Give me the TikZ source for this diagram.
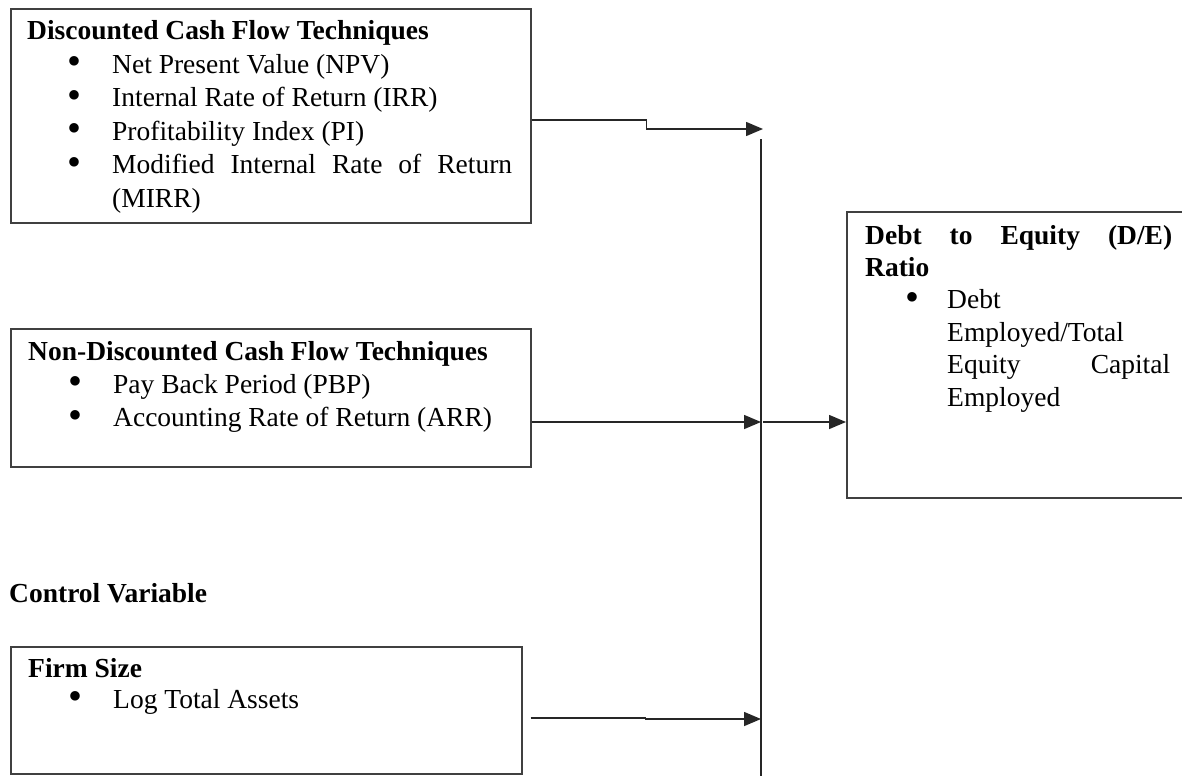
\documentclass[tikz,border=0pt]{standalone}
\usepackage{fontspec}
\setmainfont{Liberation Serif}
\usetikzlibrary{arrows.meta}

\tikzset{
  frame/.style={draw=black!75, line width=1.6pt, anchor=north west, inner sep=0pt},
  txt/.style={anchor=base west, inner sep=0pt, font=\fontsize{27.5}{33.4}\selectfont},
  link/.style={draw=black!85, line width=1.5pt},
  arr/.style={link, -{Triangle[length=17pt,width=14pt]}},
}
\newcommand{\bigdot}{\raisebox{-1.5pt}{\scalebox{1.45}{\textbullet}}}
\newcommand{\bul}[1]{\makebox[85pt][l]{\hspace*{40pt}\bigdot}#1}

\begin{document}
\begin{tikzpicture}[x=1pt,y=-1pt]
	\useasboundingbox (0,0) rectangle (1182,776);
	% boxes
	\node[frame, minimum width=520pt, minimum height=214pt] (dcf) at (10,8) {};
	\node[frame, minimum width=520pt, minimum height=138pt] (ndcf) at (10,328) {};
	\node[frame, minimum width=511pt, minimum height=127pt] (size) at (10,646) {};
	\node[frame, minimum width=360pt, minimum height=286pt] (de) at (846,211) {};
	% texts
	\node[txt] (dcftext) at (27,40) {\parbox[t]{500pt}{%
		\textbf{Discounted Cash Flow Techniques}\\
		\bul{Net Present Value (NPV)}\\
		\bul{Internal Rate of Return (IRR)}\\
		\bul{Profitability Index (PI)}\\
		\bul{\makebox[400pt][s]{Modified Internal Rate of Return}}\\
		\hspace*{85pt}(MIRR)}};
	\node[txt] (ndcftext) at (28,360) {\parbox[t]{500pt}{%
		\textbf{Non-Discounted Cash Flow Techniques}\\
		\bul{Pay Back Period (PBP)}\\
		\bul{Accounting Rate of Return (ARR)}}};
	\node[txt] (ctrl) at (9,602) {\textbf{Control Variable}};
	\node[txt] (sizetext) at (28,677) {\parbox[t]{490pt}{\baselineskip=31pt
		\textbf{Firm Size}\\
		\bul{Log Total Assets}}};
	\node[txt] (detext) at (865,244) {\parbox[t]{320pt}{\baselineskip=32.4pt
		\makebox[307pt][s]{\textbf{Debt to Equity (D/E)}}\\
		\textbf{Ratio}\\
		\makebox[82pt][l]{\hspace*{40pt}\bigdot}Debt\\
		\hspace*{82pt}Employed/Total\\
		\hspace*{82pt}\makebox[223pt][s]{Equity Capital}\\
		\hspace*{82pt}Employed}};
	% connectors
	\coordinate (top) at (761,139);
	\coordinate (bot) at (761,776);
	\coordinate (in1) at (763,129);
	\coordinate (in2) at (761,422);
	\coordinate (in3) at (761,719);
	\draw[link] (top) -- (bot);
	\draw[arr] ([yshift=-4pt]dcf.east) -- ++(115,0) |- (in1);
	\draw[arr] (ndcf.east |- in2) -- (in2);
	\draw[arr] ([xshift=2pt]in2) -- (de.west |- in2);
	\draw[arr] ([shift={(8pt,-7.5pt)}]size.east) -- ++(115,0) |- (in3);
\end{tikzpicture}
\end{document}
